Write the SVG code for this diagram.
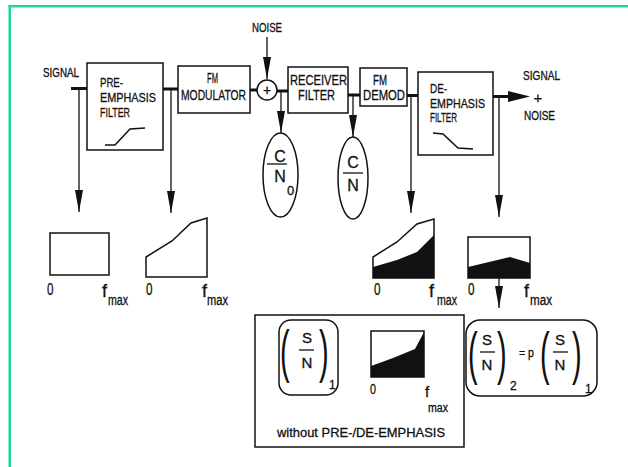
<svg xmlns="http://www.w3.org/2000/svg" width="628" height="467" viewBox="0 0 628 467">
<defs>
<style>
.t{font-family:"Liberation Sans Narrow","Liberation Sans",Arial,sans-serif;fill:#111;stroke:#111;stroke-width:0.3;}
.box{fill:#fff;stroke:#111;stroke-width:1.5;}
.thick{stroke:#111;stroke-width:3;fill:none;}
.thin{stroke:#111;stroke-width:1.3;fill:none;}
.shape{stroke:#111;stroke-width:1.5;fill:none;}
.blk{fill:#111;stroke:none;}
.paren{font-family:"Liberation Sans",Arial,sans-serif;fill:#111;font-size:58px;}
</style>
<marker id="ah" markerUnits="userSpaceOnUse" markerWidth="22" markerHeight="8" refX="22" refY="4" orient="auto">
<path d="M0,0 L22,4 L0,8 Z" fill="#111"/>
</marker>
</defs>
<rect x="0" y="0" width="628" height="467" fill="#fff"/>
<rect x="8.5" y="5" width="619.5" height="2.5" fill="#1ed6a0"/>
<rect x="8.5" y="5" width="2.5" height="462" fill="#1ed6a0"/>

<g id="connectors">
<line class="thick" x1="71" y1="88.5" x2="87" y2="88.5"/>
<line class="thick" x1="163" y1="89" x2="178" y2="89"/>
<line class="thick" x1="250" y1="90" x2="257" y2="90"/>
<line class="thick" x1="277" y1="91" x2="288" y2="91"/>
<line class="thick" x1="348" y1="95" x2="360" y2="95"/>
<line class="thick" x1="407" y1="95.5" x2="418" y2="95.5"/>
<line class="thick" x1="493" y1="96.5" x2="510" y2="96.5"/>
<path class="blk" d="M508,91 L530,96.5 L508,102 Z"/>
<line class="thin" x1="79" y1="88.5" x2="79" y2="212" marker-end="url(#ah)"/>
<line class="thin" x1="171" y1="89" x2="171" y2="213" marker-end="url(#ah)"/>
<line class="thin" x1="267" y1="37" x2="267" y2="79" marker-end="url(#ah)"/>
<line class="thin" x1="281" y1="91" x2="281" y2="133" marker-end="url(#ah)"/>
<line class="thin" x1="353" y1="95" x2="353" y2="137" marker-end="url(#ah)"/>
<line class="thin" x1="411" y1="95.5" x2="411" y2="213" marker-end="url(#ah)"/>
<line class="thin" x1="499" y1="96.5" x2="499" y2="217" marker-end="url(#ah)"/>
<line class="thin" x1="499" y1="278" x2="499" y2="308" marker-end="url(#ah)"/>
<line class="thin" x1="371" y1="352" x2="340" y2="352" marker-end="url(#ah)"/>
</g>

<g id="signal-in">
<text class="t" x="43" y="77" font-size="12" textLength="36" lengthAdjust="spacingAndGlyphs">SIGNAL</text>
</g>

<g id="pre-emphasis">
<rect class="box" x="87" y="63" width="76" height="87"/>
<text class="t" x="100" y="87" font-size="13.5" textLength="23" lengthAdjust="spacingAndGlyphs">PRE-</text>
<text class="t" x="100" y="102" font-size="13.5" textLength="56" lengthAdjust="spacingAndGlyphs">EMPHASIS</text>
<text class="t" x="100" y="117" font-size="13.5" textLength="30" lengthAdjust="spacingAndGlyphs">FILTER</text>
<polyline class="shape" points="105,145 115,145 130,129 145,128"/>
</g>

<g id="fm-modulator">
<rect class="box" x="178" y="66" width="72" height="47"/>
<text class="t" x="207" y="83" font-size="14" textLength="11" lengthAdjust="spacingAndGlyphs">FM</text>
<text class="t" x="181" y="100" font-size="14" textLength="65" lengthAdjust="spacingAndGlyphs">MODULATOR</text>
</g>

<g id="noise-in">
<text class="t" x="252" y="32" font-size="12" textLength="30" lengthAdjust="spacingAndGlyphs">NOISE</text>
</g>

<g id="summer">
<circle class="box" cx="267" cy="90" r="10"/>
<text class="t" x="267" y="95" font-size="14" text-anchor="middle">+</text>
</g>

<g id="receiver-filter">
<rect class="box" x="288" y="67" width="60" height="46"/>
<text class="t" x="290" y="85" font-size="14" textLength="57" lengthAdjust="spacingAndGlyphs">RECEIVER</text>
<text class="t" x="298" y="100" font-size="14" textLength="37" lengthAdjust="spacingAndGlyphs">FILTER</text>
</g>

<g id="fm-demod">
<rect class="box" x="360" y="68" width="47" height="38"/>
<text class="t" x="373" y="85" font-size="14" textLength="14" lengthAdjust="spacingAndGlyphs">FM</text>
<text class="t" x="363" y="100" font-size="14" textLength="42" lengthAdjust="spacingAndGlyphs">DEMOD</text>
</g>

<g id="de-emphasis">
<rect class="box" x="418" y="72" width="75" height="83"/>
<text class="t" x="430" y="93" font-size="13.5" textLength="17" lengthAdjust="spacingAndGlyphs">DE-</text>
<text class="t" x="430" y="108" font-size="13.5" textLength="55" lengthAdjust="spacingAndGlyphs">EMPHASIS</text>
<text class="t" x="430" y="122" font-size="13.5" textLength="27" lengthAdjust="spacingAndGlyphs">FILTER</text>
<polyline class="shape" points="433,133 443,134 458,148 473,149"/>
</g>

<g id="signal-out">
<text class="t" x="523" y="80" font-size="12" textLength="37" lengthAdjust="spacingAndGlyphs">SIGNAL</text>
<text class="t" x="538" y="103" font-size="15" text-anchor="middle">+</text>
<text class="t" x="524" y="120" font-size="12" textLength="31" lengthAdjust="spacingAndGlyphs">NOISE</text>
</g>

<g id="c-n0">
<ellipse class="box" cx="280.5" cy="175" rx="17.5" ry="42"/>
<text class="t" x="280" y="162" font-size="16" text-anchor="middle">C</text>
<line class="thin" x1="267" y1="164" x2="287" y2="164"/>
<text class="t" x="280" y="182" font-size="16" text-anchor="middle">N</text>
<text class="t" x="287" y="195" font-size="13">0</text>
</g>

<g id="c-n">
<ellipse class="box" cx="353" cy="178" rx="15" ry="41"/>
<text class="t" x="353" y="168" font-size="16" text-anchor="middle">C</text>
<line class="thin" x1="343" y1="173" x2="363" y2="173"/>
<text class="t" x="353" y="191" font-size="16" text-anchor="middle">N</text>
</g>

<g id="spectrum-1">
<rect class="shape" x="50" y="233" width="59" height="42"/>
<text class="t" x="47" y="295" font-size="16" textLength="6.5" lengthAdjust="spacingAndGlyphs">0</text>
<text class="t" x="102" y="297" font-size="18">f</text>
<text class="t" x="108" y="305" font-size="14" textLength="20" lengthAdjust="spacingAndGlyphs">max</text>
</g>

<g id="spectrum-2">
<polygon class="shape" points="146,277 146,257 172,241 191,223 207,218 207,277"/>
<text class="t" x="146" y="295" font-size="16" textLength="6.5" lengthAdjust="spacingAndGlyphs">0</text>
<text class="t" x="202" y="297" font-size="18">f</text>
<text class="t" x="207" y="305" font-size="14" textLength="21" lengthAdjust="spacingAndGlyphs">max</text>
</g>

<g id="spectrum-3">
<path class="blk" d="M373,267 L397,260 L417,252 L434,235 L434,278 L373,278 Z"/>
<polygon class="shape" points="373,278 373,257 397,242 417,224 434,219 434,278"/>
<text class="t" x="374" y="295" font-size="16" textLength="6.5" lengthAdjust="spacingAndGlyphs">0</text>
<text class="t" x="429" y="297" font-size="18">f</text>
<text class="t" x="437" y="305" font-size="14" textLength="20" lengthAdjust="spacingAndGlyphs">max</text>
</g>

<g id="spectrum-4">
<path class="blk" d="M468,267 L510,257 L530,263 L530,278 L468,278 Z"/>
<rect class="shape" x="468" y="237" width="62" height="41"/>
<text class="t" x="468" y="295" font-size="16" textLength="6.5" lengthAdjust="spacingAndGlyphs">0</text>
<text class="t" x="524" y="297" font-size="18">f</text>
<text class="t" x="530" y="305" font-size="14" textLength="22" lengthAdjust="spacingAndGlyphs">max</text>
</g>

<g id="without-box">
<rect class="box" x="255" y="315" width="209" height="132"/>
<text class="t" x="277" y="437" font-size="13" textLength="168" lengthAdjust="spacingAndGlyphs">without PRE-/DE-EMPHASIS</text>
</g>

<g id="sn1">
<rect class="box" x="279" y="320" width="59" height="75" rx="12"/>
<text class="paren" transform="translate(280,371) scale(0.5,1)">(</text>
<text class="paren" transform="translate(319,371) scale(0.5,1)">)</text>
<text class="t" x="307" y="343" font-size="15" text-anchor="middle">S</text>
<line class="thin" x1="299" y1="350" x2="314" y2="350"/>
<text class="t" x="307" y="368" font-size="15" text-anchor="middle">N</text>
<text class="t" x="329" y="389" font-size="12">1</text>
</g>

<g id="spectrum-5">
<path class="blk" d="M371,366 L393,358 L415,349 L424,332 L424,377 L371,377 Z"/>
<rect class="shape" x="371" y="331" width="53" height="46"/>
<text class="t" x="370" y="394" font-size="14" textLength="6" lengthAdjust="spacingAndGlyphs">0</text>
<text class="t" x="425" y="397" font-size="15">f</text>
<text class="t" x="428" y="412" font-size="12" textLength="20" lengthAdjust="spacingAndGlyphs">max</text>
</g>

<g id="sn-relation">
<rect class="box" x="466" y="320" width="131" height="76" rx="14"/>
<text class="paren" transform="translate(468,373) scale(0.5,1)">(</text>
<text class="paren" transform="translate(497,373) scale(0.5,1)">)</text>
<text class="t" x="487" y="345" font-size="15" text-anchor="middle">S</text>
<line class="thin" x1="480" y1="352" x2="495" y2="352"/>
<text class="t" x="487" y="370" font-size="15" text-anchor="middle">N</text>
<text class="t" x="510" y="390" font-size="12">2</text>
<text class="t" x="519" y="357" font-size="13" textLength="15" lengthAdjust="spacingAndGlyphs">= p</text>
<text class="paren" transform="translate(540,373) scale(0.5,1)">(</text>
<text class="paren" transform="translate(572,373) scale(0.5,1)">)</text>
<text class="t" x="560" y="345" font-size="15" text-anchor="middle">S</text>
<line class="thin" x1="553" y1="352" x2="568" y2="352"/>
<text class="t" x="560" y="370" font-size="15" text-anchor="middle">N</text>
<text class="t" x="585" y="393" font-size="12">1</text>
</g>
</svg>
